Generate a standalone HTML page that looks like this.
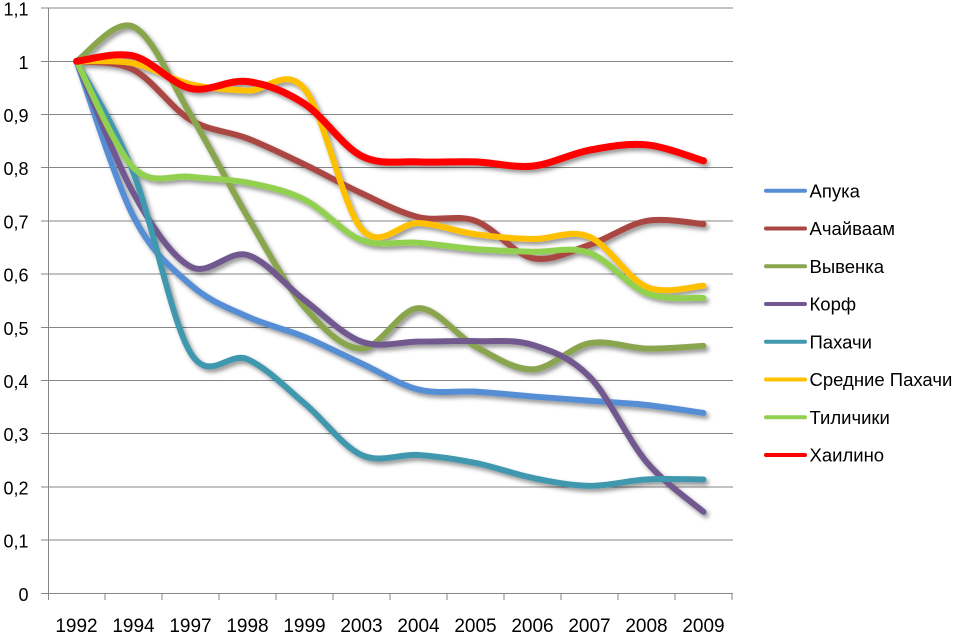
<!DOCTYPE html>
<html><head><meta charset="utf-8">
<style>
html,body{margin:0;padding:0;background:#fff;}
svg{display:block;}
text{font-family:"Liberation Sans",sans-serif;fill:#000;}
</style></head>
<body>
<svg id="c" width="956" height="633" viewBox="0 0 956 633" xmlns="http://www.w3.org/2000/svg">
<defs>
<filter id="sh" x="-10%" y="-10%" width="130%" height="130%">
<feDropShadow dx="2.5" dy="3" stdDeviation="2" flood-color="#000" flood-opacity="0.42"/>
</filter>
</defs>
<g stroke="#868686" stroke-width="1" shape-rendering="crispEdges" fill="none">
<line x1="41" y1="540.1" x2="733" y2="540.1"/>
<line x1="41" y1="486.9" x2="733" y2="486.9"/>
<line x1="41" y1="433.7" x2="733" y2="433.7"/>
<line x1="41" y1="380.5" x2="733" y2="380.5"/>
<line x1="41" y1="327.3" x2="733" y2="327.3"/>
<line x1="41" y1="274.1" x2="733" y2="274.1"/>
<line x1="41" y1="220.9" x2="733" y2="220.9"/>
<line x1="41" y1="167.7" x2="733" y2="167.7"/>
<line x1="41" y1="114.5" x2="733" y2="114.5"/>
<line x1="41" y1="61.3" x2="733" y2="61.3"/>
<line x1="41" y1="8.1" x2="733" y2="8.1"/>
<line x1="41" y1="593.3" x2="733" y2="593.3"/>
<line x1="48.3" y1="8" x2="48.3" y2="600"/>
<line x1="105" y1="593" x2="105" y2="600"/>
<line x1="162" y1="593" x2="162" y2="600"/>
<line x1="219" y1="593" x2="219" y2="600"/>
<line x1="276" y1="593" x2="276" y2="600"/>
<line x1="333" y1="593" x2="333" y2="600"/>
<line x1="390" y1="593" x2="390" y2="600"/>
<line x1="447" y1="593" x2="447" y2="600"/>
<line x1="504" y1="593" x2="504" y2="600"/>
<line x1="561" y1="593" x2="561" y2="600"/>
<line x1="618" y1="593" x2="618" y2="600"/>
<line x1="675" y1="593" x2="675" y2="600"/>
<line x1="732" y1="593" x2="732" y2="600"/>
</g>
<g font-size="18" text-anchor="end">
<text x="28.5" y="600.8">0</text>
<text x="28.5" y="547.6">0,1</text>
<text x="28.5" y="494.4">0,2</text>
<text x="28.5" y="441.2">0,3</text>
<text x="28.5" y="388">0,4</text>
<text x="28.5" y="334.8">0,5</text>
<text x="28.5" y="281.6">0,6</text>
<text x="28.5" y="228.4">0,7</text>
<text x="28.5" y="175.2">0,8</text>
<text x="28.5" y="122">0,9</text>
<text x="28.5" y="68.8">1</text>
<text x="28.5" y="15.6">1,1</text>
</g>
<g font-size="19" text-anchor="middle">
<text x="76.5" y="632">1992</text>
<text x="133.5" y="632">1994</text>
<text x="190.5" y="632">1997</text>
<text x="247.5" y="632">1998</text>
<text x="304.5" y="632">1999</text>
<text x="361.5" y="632">2003</text>
<text x="418.5" y="632">2004</text>
<text x="475.5" y="632">2005</text>
<text x="532.5" y="632">2006</text>
<text x="589.5" y="632">2007</text>
<text x="646.5" y="632">2008</text>
<text x="703.5" y="632">2009</text>
</g>
<g id="series" fill="none" stroke-linecap="round" stroke-linejoin="round" filter="url(#sh)"></g>
<g stroke-width="4" stroke-linecap="round">
<line x1="766" y1="190.7" x2="805" y2="190.7" stroke="#558ED5"/>
<line x1="766" y1="228.5" x2="805" y2="228.5" stroke="#AA4643"/>
<line x1="766" y1="266.2" x2="805" y2="266.2" stroke="#89A54E"/>
<line x1="766" y1="304" x2="805" y2="304" stroke="#71588F"/>
<line x1="766" y1="341.7" x2="805" y2="341.7" stroke="#4198AF"/>
<line x1="766" y1="379.5" x2="805" y2="379.5" stroke="#FFC000"/>
<line x1="766" y1="417.2" x2="805" y2="417.2" stroke="#92D050"/>
<line x1="766" y1="455" x2="805" y2="455" stroke="#FF0000"/>
</g>
<g font-size="18.5">
<text x="809.5" y="197.4">Апука</text>
<text x="809.5" y="235.2">Ачайваам</text>
<text x="809.5" y="272.9">Вывенка</text>
<text x="809.5" y="310.7">Корф</text>
<text x="809.5" y="348.4">Пахачи</text>
<text x="809.5" y="386.2">Средние Пахачи</text>
<text x="809.5" y="423.9">Тиличики</text>
<text x="809.5" y="461.7">Хаилино</text>
</g>
</svg>
<script>
(function(){
var S=[
["#558ED5",6,[1.0,0.708,0.58,0.52,0.482,0.432,0.383,0.379,0.37,0.362,0.354,0.339]],
["#AA4643",6,[1.0,0.984,0.89,0.855,0.806,0.752,0.707,0.70,0.63,0.655,0.70,0.694]],
["#89A54E",6,[1.0,1.065,0.90,0.708,0.538,0.46,0.536,0.464,0.421,0.47,0.46,0.465]],
["#71588F",6,[1.0,0.752,0.614,0.636,0.551,0.473,0.473,0.474,0.467,0.407,0.247,0.153]],
["#4198AF",6,[1.0,0.79,0.452,0.44,0.357,0.26,0.26,0.245,0.217,0.202,0.214,0.214]],
["#FFC000",6,[1.0,0.996,0.957,0.945,0.948,0.685,0.696,0.675,0.666,0.67,0.576,0.578]],
["#92D050",6,[1.0,0.80,0.783,0.772,0.74,0.664,0.659,0.647,0.642,0.640,0.564,0.555]],
["#FF0000",7,[1.0,1.01,0.949,0.962,0.92,0.822,0.811,0.811,0.803,0.833,0.843,0.813]]
];
var g=document.getElementById('series');
var NS="http://www.w3.org/2000/svg";
function f(n){return n.toFixed(2);}
S.forEach(function(s){
  var d=s[2],n=d.length,p=[];
  for(var i=0;i<n;i++)p.push([76.5+57*i,593.3-532*d[i]]);
  var str="M"+f(p[0][0])+","+f(p[0][1]);
  for(var i=0;i<n-1;i++){
    var p0=p[Math.max(i-1,0)],p1=p[i],p2=p[i+1],p3=p[Math.min(i+2,n-1)];
    var c1=[p1[0]+(p2[0]-p0[0])/6,p1[1]+(p2[1]-p0[1])/6];
    var c2=[p2[0]-(p3[0]-p1[0])/6,p2[1]-(p3[1]-p1[1])/6];
    str+="C"+f(c1[0])+","+f(c1[1])+" "+f(c2[0])+","+f(c2[1])+" "+f(p2[0])+","+f(p2[1]);
  }
  var e=document.createElementNS(NS,"path");
  e.setAttribute("d",str);e.setAttribute("stroke",s[0]);e.setAttribute("stroke-width",s[1]);
  g.appendChild(e);
});
})();
</script>
</body></html>
